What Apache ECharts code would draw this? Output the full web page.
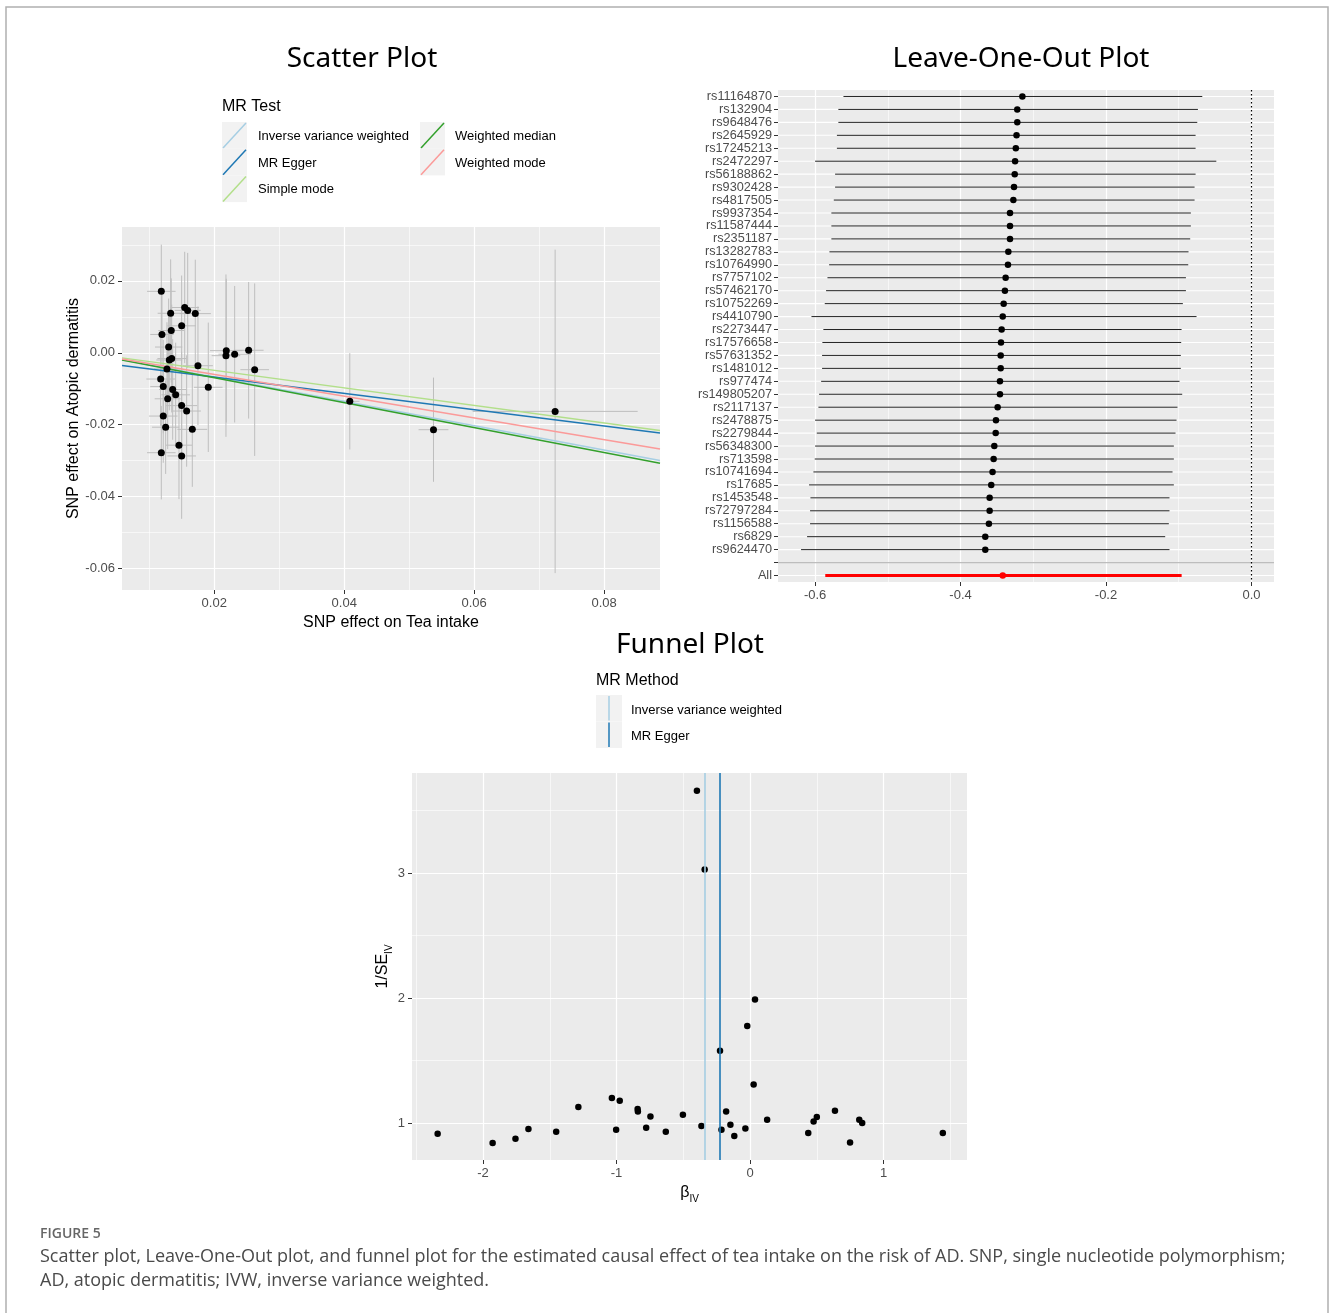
<!DOCTYPE html>
<html>
<head>
<meta charset="utf-8">
<title>Figure 5</title>
<script src="https://cdn.jsdelivr.net/npm/echarts@6/dist/echarts.min.js"></script>
<style>
  html, body { margin: 0; padding: 0; background: #fff; }
  #chart { width: 1330px; height: 1313px; }
</style>
</head>
<body>
<div id="chart"></div>
<script>
// ---- scatter plot: SNP effects on exposure (bx) and outcome (by) ----
const snpBx = [0.01185, 0.01329, 0.01545, 0.01591, 0.01708, 0.01498, 0.01338, 0.01195, 0.01298, 0.01308,
  0.01345, 0.01749, 0.02185, 0.02180, 0.02314, 0.02529, 0.02622, 0.01272, 0.01175, 0.01215,
  0.01360, 0.01406, 0.01283, 0.01908, 0.01498, 0.01575, 0.01215, 0.01252, 0.01662, 0.01457,
  0.01185, 0.01498, 0.04086, 0.05374, 0.07246];
const snpBy = [0.0171, 0.0110, 0.0126, 0.0118, 0.0109, 0.0075, 0.0062, 0.0051, 0.0016, -0.0020,
  -0.0016, -0.0036, 0.0006, -0.0008, -0.0004, 0.0007, -0.0047, -0.0045, -0.0073, -0.0094,
  -0.0102, -0.0117, -0.0128, -0.0096, -0.0147, -0.0162, -0.0176, -0.0207, -0.0213, -0.0257,
  -0.0278, -0.0287, -0.0135, -0.0214, -0.0163];
const snpSeX = [0.0022, 0.0020, 0.0022, 0.0020, 0.0024, 0.0022, 0.0020, 0.0018, 0.0021, 0.0020,
  0.0022, 0.0023, 0.0025, 0.0022, 0.0025, 0.0023, 0.0022, 0.0020, 0.0022, 0.0020,
  0.0021, 0.0022, 0.0020, 0.0022, 0.0024, 0.0022, 0.0022, 0.0021, 0.0023, 0.0020,
  0.0022, 0.0022, 0.0015, 0.0023, 0.0127];
const snpSeY = [0.0130, 0.0150, 0.0155, 0.0160, 0.0150, 0.0140, 0.0145, 0.0130, 0.0135, 0.0140,
  0.0150, 0.0165, 0.0200, 0.0226, 0.0190, 0.0190, 0.0240, 0.0130, 0.0130, 0.0130,
  0.0140, 0.0145, 0.0140, 0.0180, 0.0150, 0.0155, 0.0130, 0.0130, 0.0160, 0.0150,
  0.0130, 0.0175, 0.0134, 0.0145, 0.0450];

const methods = ['Inverse variance weighted', 'MR Egger', 'Simple mode', 'Weighted median', 'Weighted mode'];
const methodSlope = [-0.338, -0.227, -0.244, -0.347, -0.302];
const methodIntercept = [0, -0.0022, 0, 0, 0];
const methodColor = ['#a6cee3', '#1f78b4', '#b2df8a', '#33a02c', '#fb9a99'];

const sxMin = 0.0058, sxMax = 0.0886;
const syMin = -0.066, syMax = 0.035;
const scatterXTicks = [0.02, 0.04, 0.06, 0.08];
const scatterYTicks = [-0.06, -0.04, -0.02, 0, 0.02];

// ---- leave-one-out ----
const looSnps = ['rs11164870', 'rs132904', 'rs9648476', 'rs2645929', 'rs17245213', 'rs2472297',
  'rs56188862', 'rs9302428', 'rs4817505', 'rs9937354', 'rs11587444', 'rs2351187', 'rs13282783',
  'rs10764990', 'rs7757102', 'rs57462170', 'rs10752269', 'rs4410790', 'rs2273447', 'rs17576658',
  'rs57631352', 'rs1481012', 'rs977474', 'rs149805207', 'rs2117137', 'rs2478875', 'rs2279844',
  'rs56348300', 'rs713598', 'rs10741694', 'rs17685', 'rs1453548', 'rs72797284', 'rs1156588',
  'rs6829', 'rs9624470'];
const looEst = [-0.315, -0.322, -0.322, -0.323, -0.324, -0.325, -0.3255, -0.3265, -0.3274, -0.332,
  -0.332, -0.332, -0.3343, -0.3348, -0.338, -0.339, -0.3407, -0.342, -0.3435, -0.3444,
  -0.3448, -0.3448, -0.3458, -0.3458, -0.349, -0.3513, -0.3517, -0.3536, -0.3545, -0.356,
  -0.3578, -0.360, -0.360, -0.361, -0.366, -0.366];
const looLo = [-0.561, -0.568, -0.568, -0.570, -0.570, -0.600, -0.5725, -0.5725, -0.5743, -0.5776,
  -0.5776, -0.5776, -0.5803, -0.5807, -0.583, -0.5849, -0.5867, -0.605, -0.5886, -0.590,
  -0.5904, -0.5904, -0.5917, -0.5945, -0.5954, -0.600, -0.5977, -0.600, -0.6005, -0.6023,
  -0.6083, -0.6064, -0.6069, -0.6069, -0.611, -0.6193];
const looHi = [-0.0676, -0.0736, -0.0745, -0.0768, -0.0768, -0.0483, -0.0768, -0.0782, -0.0782, -0.0833,
  -0.0833, -0.0842, -0.0865, -0.0869, -0.0901, -0.0901, -0.0943, -0.0755, -0.0961, -0.0966,
  -0.0971, -0.0971, -0.0989, -0.0952, -0.1017, -0.1030, -0.1044, -0.1067, -0.1067, -0.1085,
  -0.1067, -0.1127, -0.1127, -0.1136, -0.1186, -0.1127];
const allEst = -0.342, allLo = -0.586, allHi = -0.096;
const looXTicks = [-0.6, -0.4, -0.2, 0];

// ---- funnel ----
const funnelBeta = [-0.398, -0.340, 0.037, -0.021, -0.225, 0.027, -2.340, -1.928, -1.757, -1.660,
  -1.452, -1.286, -1.035, -0.976, -1.003, -0.842, -0.840, -0.746, -0.778, -0.631,
  -0.503, -0.364, -0.214, -0.179, -0.147, -0.118, -0.035, 0.128, 0.436, 0.476,
  0.500, 0.636, 0.749, 0.818, 0.840, 1.444];
const funnelInvSe = [3.659, 3.029, 1.989, 1.776, 1.579, 1.309, 0.915, 0.840, 0.875, 0.952,
  0.931, 1.128, 1.200, 1.179, 0.947, 1.112, 1.093, 1.053, 0.963, 0.931,
  1.067, 0.976, 0.947, 1.093, 0.987, 0.896, 0.957, 1.027, 0.920, 1.013,
  1.048, 1.099, 0.845, 1.027, 1.000, 0.920];
const funnelMethods = ['Inverse variance weighted', 'MR Egger'];
const funnelEst = [-0.343, -0.227];
const funnelColor = ['#a6cee3', '#1f78b4'];
const funnelXTicks = [-2, -1, 0, 1];
const funnelYTicks = [1, 2, 3];

const caption = [
  'Scatter plot, Leave-One-Out plot, and funnel plot for the estimated causal effect of tea intake on the risk of AD. SNP, single nucleotide polymorphism;',
  'AD, atopic dermatitis; IVW, inverse variance weighted.'
];

const FONT = '"Liberation Sans", Arial, sans-serif';
const TITLE_FONT = '"Noto Sans", "Open Sans", sans-serif';
const TICK_SIZE = 13;

function fixed(digits) {
  return function (v) {
    return Math.abs(v) < 1e-12 ? (0).toFixed(digits) : Number(v).toFixed(digits);
  };
}

function valueAxis(grid, min, max, split, ticks, digits, extra) {
  return Object.assign({
    type: 'value', gridIndex: grid, min: min, max: max, splitNumber: split,
    axisLine: { show: false, onZero: false },
    axisTick: { show: true, length: 4, customValues: ticks, lineStyle: { color: '#333', width: 1 } },
    axisLabel: { color: '#4d4d4d', fontSize: TICK_SIZE, fontFamily: FONT, margin: 7,
      customValues: ticks, formatter: fixed(digits) },
    splitLine: { show: true, lineStyle: { color: '#fff', width: 1.2 } },
    minorTick: { show: false, splitNumber: 2 },
    minorSplitLine: { show: true, lineStyle: { color: '#fff', width: 0.6 } }
  }, extra || {});
}

const gridBox = { show: true, backgroundColor: '#ebebeb', borderWidth: 0, containLabel: false };
const dot = { color: '#000', opacity: 1 };

// ---- graphic: titles, legends, caption, border ----
const graphics = [];
graphics.push({ type: 'polyline', silent: true,
  shape: { points: [[6, 1313], [6, 7], [1328, 7], [1328, 1313]] },
  style: { stroke: '#b0b0b0', lineWidth: 1.5, fill: null } });

function title(text, cx, cy) {
  graphics.push({ type: 'text', x: cx, y: cy, silent: true,
    style: { text: text, font: '28px ' + TITLE_FONT, fill: '#000', align: 'center', verticalAlign: 'middle' } });
}
title('Scatter Plot', 362, 59);
title('Leave-One-Out Plot', 1021, 59);
title('Funnel Plot', 690, 645);

function label(text, x, y, size) {
  graphics.push({ type: 'text', x: x, y: y, silent: true,
    style: { text: text, font: size + 'px ' + FONT, fill: '#000', align: 'left', verticalAlign: 'middle' } });
}

// scatter legend (two columns: 3 + 2)
label('MR Test', 222, 107, 16);
methods.forEach(function (m, i) {
  const col = i < 3 ? 0 : 1;
  const row = i < 3 ? i : i - 3;
  const kx = col === 0 ? 222 : 420;
  const ky = 122 + row * 26.7;
  graphics.push({ type: 'rect', silent: true, shape: { x: kx, y: ky, width: 25, height: 26.7 },
    style: { fill: '#f2f2f2' } });
  graphics.push({ type: 'line', silent: true,
    shape: { x1: kx + 1, y1: ky + 26, x2: kx + 24, y2: ky + 1 },
    style: { stroke: methodColor[i], lineWidth: 1.5 } });
  label(m, kx + (col === 0 ? 36 : 35), ky + 14.5, 13);
});

// funnel legend
label('MR Method', 596, 681, 16);
funnelMethods.forEach(function (m, i) {
  const ky = 695 + i * 26.5;
  graphics.push({ type: 'rect', silent: true, shape: { x: 596, y: ky, width: 26, height: 26.5 },
    style: { fill: '#f2f2f2' } });
  graphics.push({ type: 'line', silent: true, shape: { x1: 609, y1: ky + 1, x2: 609, y2: ky + 25.5 },
    style: { stroke: funnelColor[i], lineWidth: 1.5 } });
  label(m, 631, ky + 15, 13);
});

// caption
graphics.push({ type: 'text', x: 40, y: 1234, silent: true,
  style: { text: 'FIGURE 5', font: '600 14px "Open Sans", sans-serif', fill: '#666',
    verticalAlign: 'middle' } });
caption.forEach(function (line, i) {
  graphics.push({ type: 'text', x: 40, y: 1257 + i * 24, silent: true,
    style: { text: line, font: '18px "Open Sans", sans-serif', fill: '#4a4a4a', verticalAlign: 'middle' } });
});

// ---- series data ----
const scatterData = snpBx.map(function (x, i) { return [x, snpBy[i], snpSeX[i], snpSeY[i]]; });

const methodLines = methods.map(function (m, i) {
  return {
    type: 'line', name: m, xAxisIndex: 0, yAxisIndex: 0, symbol: 'none', silent: true, z: 3,
    lineStyle: { color: methodColor[i], width: 1.5 },
    data: [[sxMin, methodIntercept[i] + methodSlope[i] * sxMin],
           [sxMax, methodIntercept[i] + methodSlope[i] * sxMax]]
  };
});

const looRows = looSnps.concat(['', 'All']);
const allIdx = looRows.length - 1;
const sepIdx = looRows.length - 2;
const looCi = looSnps.map(function (s, i) { return [looLo[i], looHi[i], i]; });
looCi.push([allLo, allHi, allIdx]);
const looPts = looSnps.map(function (s, i) { return [looEst[i], i]; });
const allPt = [[allEst, allIdx]];

const subRich = {
  a: { fontSize: 16, fontFamily: FONT, lineHeight: 22, color: '#000' },
  b: { fontSize: 10, fontFamily: FONT, lineHeight: 14, verticalAlign: 'bottom', color: '#000' }
};

const option = {
  animation: false,
  backgroundColor: '#fff',
  textStyle: { fontFamily: FONT },
  grid: [
    Object.assign({ left: 122, top: 227, width: 538, height: 363 }, gridBox),
    Object.assign({ left: 778, top: 90, width: 496, height: 492 }, gridBox),
    Object.assign({ left: 412, top: 773, width: 555, height: 387 }, gridBox)
  ],
  xAxis: [
    valueAxis(0, sxMin, sxMax, 5, scatterXTicks, 2, {
      name: 'SNP effect on Tea intake', nameLocation: 'middle', nameGap: 25,
      nameTextStyle: { fontSize: 16, color: '#000', fontFamily: FONT } }),
    valueAxis(1, -0.651, 0.031, 3, looXTicks, 1),
    valueAxis(2, -2.532, 1.625, 5, funnelXTicks, 0, {
      name: '{a|β}{b|IV}', nameLocation: 'middle', nameGap: 22,
      nameTextStyle: { color: '#000', rich: subRich } })
  ],
  yAxis: [
    valueAxis(0, syMin, syMax, 5, scatterYTicks, 2, {
      name: 'SNP effect on Atopic dermatitis', nameLocation: 'middle', nameGap: 40, nameRotate: 90,
      nameTextStyle: { fontSize: 16, color: '#000', fontFamily: FONT } }),
    {
      type: 'category', gridIndex: 1, data: looRows, inverse: true,
      axisLine: { show: false, onZero: false },
      axisTick: { show: true, length: 4, alignWithLabel: true, interval: 0, lineStyle: { color: '#333' } },
      axisLabel: { color: '#4d4d4d', fontSize: 12.7, fontFamily: FONT, margin: 6, interval: 0 },
      splitLine: { show: false }
    },
    valueAxis(2, 0.704, 3.8, 3, funnelYTicks, 0, {
      name: '{a|1/SE}{b|IV}', nameLocation: 'middle', nameGap: 18, nameRotate: 90,
      nameTextStyle: { color: '#000', rich: subRich } })
  ],
  graphic: graphics,
  series: [
    // scatter: error bars
    {
      type: 'custom', xAxisIndex: 0, yAxisIndex: 0, clip: true, silent: true, z: 2,
      encode: { x: 0, y: 1 },
      data: scatterData,
      renderItem: function (params, api) {
        const x = api.value(0), y = api.value(1), sx = api.value(2), sy = api.value(3);
        const h1 = api.coord([x - sx, y]), h2 = api.coord([x + sx, y]);
        const v1 = api.coord([x, y - sy]), v2 = api.coord([x, y + sy]);
        const st = { stroke: '#bebebe', lineWidth: 1 };
        return { type: 'group', children: [
          { type: 'line', shape: { x1: h1[0], y1: h1[1], x2: h2[0], y2: h2[1] }, style: st },
          { type: 'line', shape: { x1: v1[0], y1: v1[1], x2: v2[0], y2: v2[1] }, style: st }
        ] };
      }
    }
  ].concat(methodLines).concat([
    {
      type: 'scatter', xAxisIndex: 0, yAxisIndex: 0, symbolSize: 7, silent: true, z: 4,
      itemStyle: dot,
      data: scatterData.map(function (d) { return [d[0], d[1]]; })
    },
    // leave-one-out: row gridlines
    {
      type: 'custom', xAxisIndex: 1, yAxisIndex: 1, silent: true, z: 1,
      encode: { x: 0, y: 1 },
      data: looRows.map(function (r, i) { return [0, i]; }),
      renderItem: function (params, api) {
        const cs = params.coordSys;
        const idx = api.value(1);
        const y = api.coord([0, idx])[1];
        return { type: 'line', shape: { x1: cs.x, y1: y, x2: cs.x + cs.width, y2: y },
          style: { stroke: idx === sepIdx ? '#bdbdbd' : '#fff', lineWidth: idx === sepIdx ? 1.2 : 1.1 } };
      }
    },
    // leave-one-out: confidence intervals
    {
      type: 'custom', xAxisIndex: 1, yAxisIndex: 1, silent: true, z: 2,
      encode: { x: [0, 1], y: 2 },
      data: looCi,
      renderItem: function (params, api) {
        const idx = api.value(2);
        const p1 = api.coord([api.value(0), idx]), p2 = api.coord([api.value(1), idx]);
        const isAll = idx === allIdx;
        return { type: 'line', shape: { x1: p1[0], y1: p1[1], x2: p2[0], y2: p2[1] },
          style: { stroke: isAll ? '#ff0000' : '#222', lineWidth: isAll ? 3 : 1 } };
      }
    },
    {
      type: 'scatter', xAxisIndex: 1, yAxisIndex: 1, symbolSize: 6.5, silent: true, z: 3,
      itemStyle: dot,
      data: looPts,
      markLine: {
        silent: true, symbol: 'none', label: { show: false },
        lineStyle: { color: '#000', type: [1.5, 2.5], width: 1.2 },
        data: [{ xAxis: 0 }]
      }
    },
    {
      type: 'scatter', xAxisIndex: 1, yAxisIndex: 1, symbolSize: 6.5, silent: true, z: 3,
      itemStyle: { color: '#ff0000', opacity: 1 },
      data: allPt
    },
    // funnel
    {
      type: 'scatter', xAxisIndex: 2, yAxisIndex: 2, symbolSize: 6.5, silent: true, z: 3,
      itemStyle: dot,
      data: funnelBeta.map(function (b, i) { return [b, funnelInvSe[i]]; }),
      markLine: {
        silent: true, symbol: 'none', label: { show: false },
        data: funnelEst.map(function (e, i) {
          return { xAxis: e, lineStyle: { color: funnelColor[i], width: 1.6, type: 'solid' } };
        })
      }
    }
  ])
};

const chart = echarts.init(document.getElementById('chart'), null, { renderer: 'canvas' });
chart.setOption(option);
</script>
</body>
</html>
